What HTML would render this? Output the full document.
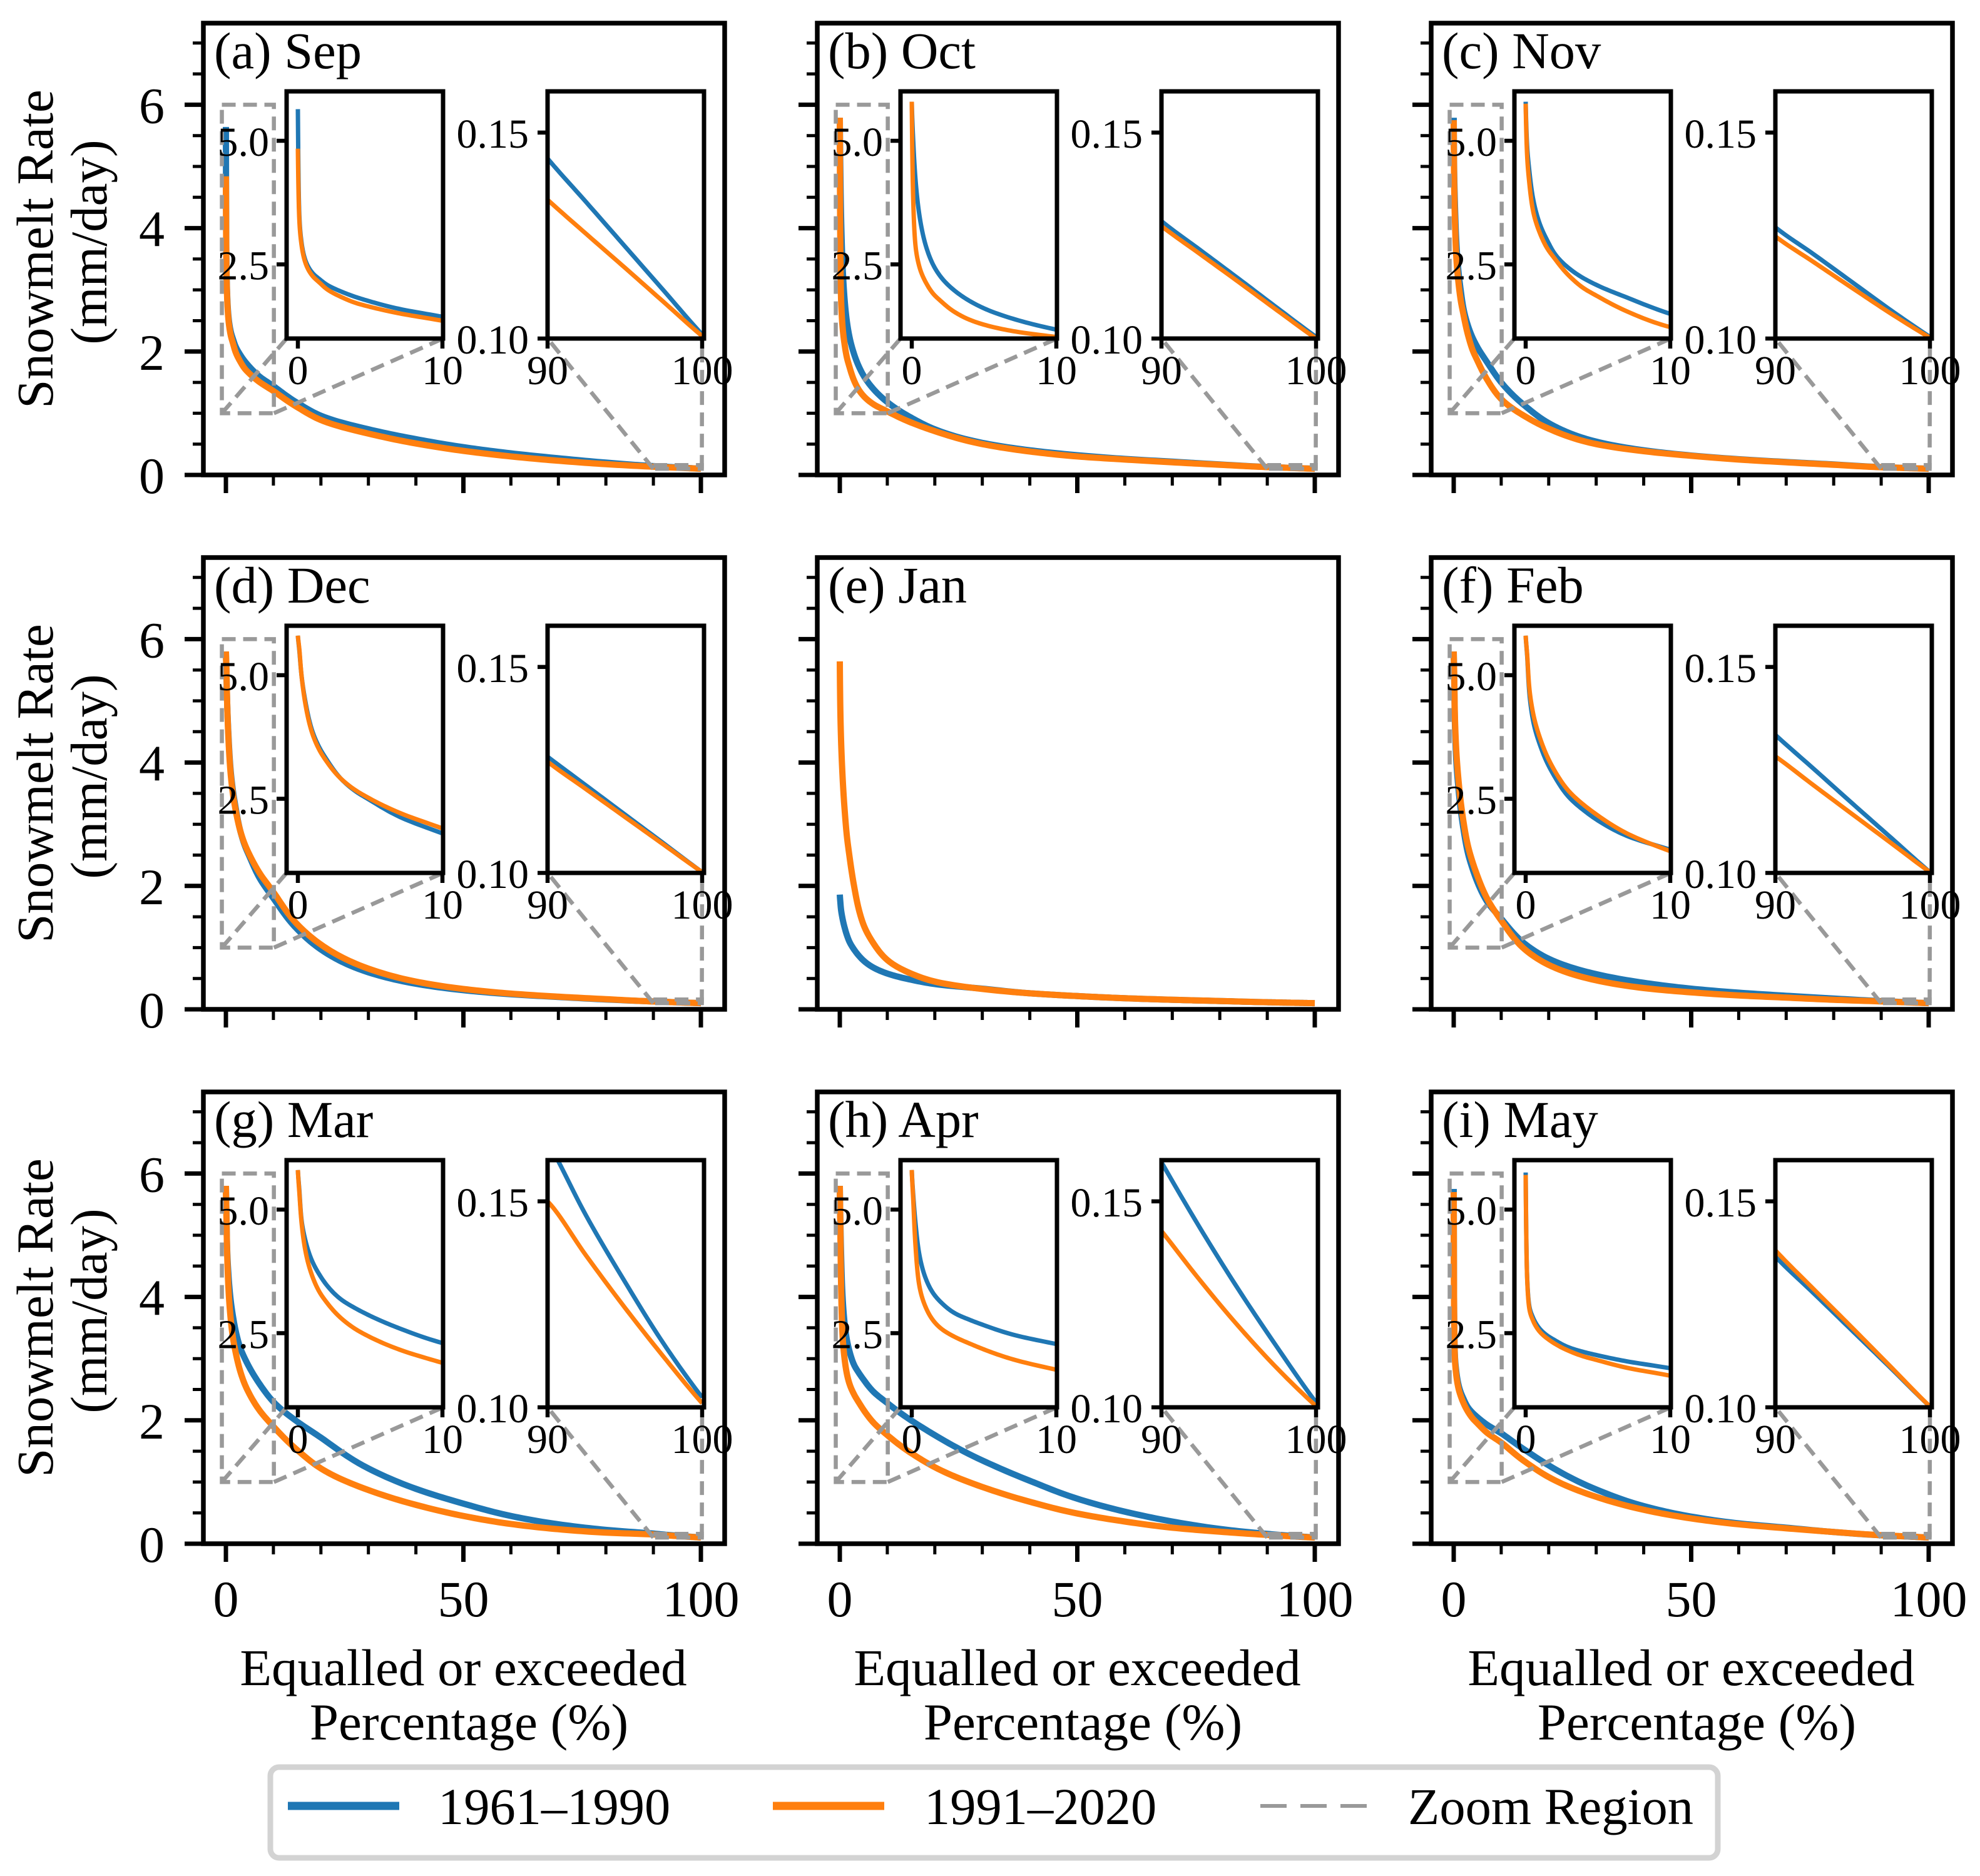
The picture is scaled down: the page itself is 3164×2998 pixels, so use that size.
<!DOCTYPE html>
<html lang="en">
<head>
<meta charset="utf-8">
<title>Snowmelt Rate Flow Duration Curves</title>
<style>
html,body{margin:0;padding:0;background:#fff;}
svg{display:block;}
text{font-family:"Liberation Serif","Times New Roman",serif;fill:#000;}
</style>
</head>
<body>
<svg id="figure" xmlns="http://www.w3.org/2000/svg" width="3164" height="2998" viewBox="0 0 3164 2998">
  <rect x="0" y="0" width="3164" height="2998" fill="#fff"/>
  <g id="panels"></g>
  <g>
    <rect x="432" y="2824" width="2313" height="145" rx="14" ry="14" fill="#fff" stroke="#d3d3d3" stroke-width="9"/>
    <line x1="460" y1="2886" x2="638" y2="2886" stroke="#1f77b4" stroke-width="13"/>
    <text x="700" y="2915" font-size="82.5">1961–1990</text>
    <line x1="1235" y1="2886" x2="1413" y2="2886" stroke="#ff7f0e" stroke-width="13"/>
    <text x="1477" y="2915" font-size="82.5">1991–2020</text>
    <line x1="2014" y1="2886" x2="2184" y2="2886" stroke="#999" stroke-width="6" stroke-dasharray="42 22"/>
    <text x="2250" y="2915" font-size="82.5">Zoom Region</text>
  </g>
</svg>
<script>
// Exceedance percentages shared by every series
const percentiles = [0,0.1,0.25,0.5,1,1.5,2,3,4,5,7,10,15,20,30,40,50,60,70,80,90,92.5,95,97.5,100];

// Snowmelt rate (mm/day) per month and period
const sep1961 = [5.64,3.5,2.95,2.6,2.33,2.2,2.09,1.95,1.84,1.75,1.6,1.44,1.17,0.96,0.74,0.58,0.45,0.35,0.27,0.2,0.1437,0.1331,0.1224,0.1117,0.101];
const sep1991 = [4.84,3.4,2.9,2.55,2.27,2.13,2.0,1.84,1.72,1.64,1.51,1.36,1.1,0.89,0.67,0.51,0.39,0.3,0.23,0.175,0.1337,0.1254,0.1172,0.1089,0.1006];
const oct1961 = [5.79,5.0,4.25,3.55,2.85,2.48,2.25,1.96,1.76,1.61,1.4,1.18,0.93,0.74,0.52,0.4,0.32,0.26,0.215,0.17,0.1285,0.1215,0.1145,0.1074,0.1004];
const oct1991 = [5.79,3.8,2.9,2.48,2.12,1.9,1.76,1.53,1.38,1.28,1.15,1.03,0.85,0.71,0.5,0.38,0.3,0.25,0.205,0.165,0.1273,0.1205,0.1137,0.1068,0.1];
const nov1961 = [5.79,4.9,4.4,3.85,3.3,2.98,2.72,2.42,2.22,2.07,1.83,1.5,1.12,0.84,0.54,0.4,0.315,0.255,0.21,0.17,0.127,0.1204,0.1136,0.1068,0.1004];
const nov1991 = [5.75,4.7,4.15,3.6,3.12,2.82,2.62,2.27,2.02,1.85,1.55,1.23,0.95,0.75,0.5,0.385,0.31,0.25,0.205,0.165,0.1248,0.1185,0.1122,0.106,0.1002];
const dec1961 = [5.8,5.5,5.0,4.5,3.87,3.53,3.29,2.9,2.65,2.47,2.14,1.8,1.3,0.97,0.6,0.415,0.31,0.245,0.2,0.16,0.1282,0.1212,0.1142,0.1072,0.1002];
const dec1991 = [5.8,5.53,5.0,4.45,3.82,3.48,3.25,2.9,2.67,2.5,2.22,1.9,1.38,1.05,0.66,0.45,0.33,0.255,0.205,0.165,0.127,0.1203,0.1136,0.1069,0.1002];
const jan1961 = [1.86,1.75,1.62,1.5,1.33,1.2,1.1,0.97,0.87,0.79,0.68,0.58,0.48,0.41,0.335,0.26,0.215,0.18,0.155,0.135,0.115,0.111,0.107,0.1035,0.1];
const jan1991 = [5.64,4.9,4.4,3.9,3.25,2.8,2.5,2.0,1.62,1.37,1.08,0.8,0.58,0.45,0.33,0.26,0.215,0.18,0.155,0.135,0.115,0.111,0.107,0.1035,0.1];
const feb1961 = [5.8,5.4,4.65,4.1,3.58,3.22,2.95,2.53,2.27,2.06,1.75,1.47,1.06,0.82,0.57,0.43,0.335,0.27,0.22,0.175,0.1335,0.1252,0.1168,0.1085,0.1002];
const feb1991 = [5.8,5.43,4.75,4.25,3.72,3.35,3.07,2.65,2.38,2.16,1.8,1.44,0.97,0.72,0.47,0.345,0.275,0.225,0.19,0.155,0.1283,0.1212,0.1142,0.1072,0.1002];
const mar1961 = [5.8,5.4,4.8,4.4,3.95,3.68,3.47,3.18,3.0,2.85,2.6,2.3,1.98,1.72,1.22,0.89,0.65,0.45,0.315,0.225,0.1645,0.1465,0.1305,0.1155,0.1024];
const mar1991 = [5.8,5.35,4.75,4.2,3.65,3.33,3.12,2.8,2.58,2.42,2.17,1.9,1.52,1.22,0.87,0.63,0.45,0.32,0.235,0.18,0.15,0.1368,0.1242,0.1123,0.101];
const apr1961 = [5.8,5.3,4.75,4.13,3.58,3.3,3.13,2.9,2.77,2.66,2.47,2.28,2.0,1.76,1.35,1.02,0.73,0.52,0.36,0.24,0.1595,0.1435,0.1285,0.1145,0.1012];
const apr1991 = [5.8,5.2,4.3,3.5,3.0,2.75,2.6,2.42,2.29,2.17,1.97,1.76,1.47,1.24,0.92,0.68,0.49,0.36,0.26,0.195,0.1428,0.1308,0.1196,0.1094,0.1003];
const may1961 = [5.75,3.65,3.05,2.82,2.58,2.45,2.36,2.21,2.12,2.05,1.93,1.79,1.52,1.27,0.88,0.61,0.44,0.33,0.26,0.19,0.1366,0.1276,0.1185,0.1094,0.1002];
const may1991 = [5.7,3.62,3.0,2.76,2.52,2.39,2.29,2.14,2.03,1.95,1.8,1.64,1.33,1.08,0.76,0.55,0.41,0.315,0.25,0.19,0.1381,0.1286,0.1192,0.1097,0.1002];

// Panel order and labels
const panelTitles = ["(a) Sep","(b) Oct","(c) Nov","(d) Dec","(e) Jan","(f) Feb","(g) Mar","(h) Apr","(i) May"];
const earlySeries = [sep1961,oct1961,nov1961,dec1961,jan1961,feb1961,mar1961,apr1961,may1961];
const lateSeries = [sep1991,oct1991,nov1991,dec1991,jan1991,feb1991,mar1991,apr1991,may1991];

// Tick values and labels
const xMajorTicks = [0,50,100];
const xMinorTicks = [10,20,30,40,60,70,80,90];
const yMajorTicks = [0,2,4,6];
const yMinorTicks = [0.5,1,1.5,2.5,3,3.5,4.5,5,5.5,6.5,7];
const headXTicks = [0,10];
const headYTicks = [2.5,5];
const headYLabels = ["2.5","5.0"];
const tailXTicks = [90,100];
const tailYTicks = [0.1,0.15];
const tailYLabels = ["0.10","0.15"];

const SVGNS = "http://www.w3.org/2000/svg";
const BLUE = "#1f77b4", ORANGE = "#ff7f0e", GRAY = "#999999";
const root = document.getElementById("panels");

function mk(tag, parent) {
  const el = document.createElementNS(SVGNS, tag);
  parent.appendChild(el);
  return el;
}
function seg(parent, x1, y1, x2, y2, w, color, dash) {
  const el = mk("line", parent);
  el.setAttribute("x1", x1); el.setAttribute("y1", y1);
  el.setAttribute("x2", x2); el.setAttribute("y2", y2);
  el.setAttribute("stroke", color); el.setAttribute("stroke-width", w);
  if (dash) el.setAttribute("stroke-dasharray", dash);
  return el;
}
function txt(parent, s, x, y, size, anchor) {
  const el = mk("text", parent);
  el.setAttribute("x", x); el.setAttribute("y", y);
  el.setAttribute("font-size", size);
  el.setAttribute("text-anchor", anchor);
  el.textContent = s;
  return el;
}
function box(parent, x, y, w, h, sw, color, fill, dash) {
  const el = mk("rect", parent);
  el.setAttribute("x", x); el.setAttribute("y", y);
  el.setAttribute("width", w); el.setAttribute("height", h);
  el.setAttribute("stroke", color); el.setAttribute("stroke-width", sw);
  el.setAttribute("fill", fill);
  if (dash) el.setAttribute("stroke-dasharray", dash);
  return el;
}
// Smooth resampling: monotone Hermite spline in log-percent / log-rate space
function resample(values) {
  const u = percentiles.map(p => Math.log(p + 0.1));
  const w = values.map(v => Math.log(v));
  const n = u.length, dx = [], m = [], t = [], out = [];
  for (let i = 0; i < n - 1; i++) {
    dx[i] = u[i + 1] - u[i];
    m[i] = (w[i + 1] - w[i]) / dx[i];
  }
  t[0] = m[0]; t[n - 1] = m[n - 2];
  for (let i = 1; i < n - 1; i++) {
    if (m[i - 1] * m[i] <= 0) { t[i] = 0; continue; }
    const a = 2 * dx[i] + dx[i - 1], b = dx[i] + 2 * dx[i - 1];
    t[i] = (a + b) / (a / m[i - 1] + b / m[i]);
  }
  for (let i = 0; i < n - 1; i++) {
    out.push([percentiles[i], values[i]]);
    for (let k = 1; k < 12; k++) {
      const s = k / 12, s2 = s * s, s3 = s2 * s;
      const val = (2 * s3 - 3 * s2 + 1) * w[i] + (s3 - 2 * s2 + s) * dx[i] * t[i]
        + (-2 * s3 + 3 * s2) * w[i + 1] + (s3 - s2) * dx[i] * t[i + 1];
      out.push([Math.exp(u[i] + s * dx[i]) - 0.1, Math.exp(val)]);
    }
  }
  out.push([percentiles[n - 1], values[n - 1]]);
  return out;
}
function curve(parent, values, xFn, yFn, lo, hi, color, w) {
  const pts = resample(values).filter(q => q[0] >= lo && q[0] <= hi);
  const el = mk("path", parent);
  el.setAttribute("d", "M" + pts.map(q => xFn(q[0]).toFixed(2) + "," + yFn(q[1]).toFixed(2)).join("L"));
  el.setAttribute("fill", "none");
  el.setAttribute("stroke", color);
  el.setAttribute("stroke-width", w);
  el.setAttribute("stroke-linejoin", "round");
  return el;
}

panelTitles.forEach((title, idx) => {
  const col = idx % 3, row = Math.floor(idx / 3);
  const ox = col * 981, oy = row * 854;
  const key = title.slice(4).toLowerCase();

  const g = mk("g", root);
  
  

  // Main axes functions
  const L = 325 + ox, R = 1158 + ox, T = 37 + oy, B = 759 + oy;
  const mx = v => 361 + ox + v * 7.59;
  const my = v => B - v * 98.6;

  const frame = box(g, L, T, R - L, B - T, 7.5, "#000", "#fff");
  
  

  // Main ticks
  xMinorTicks.forEach(v => {
    const t = seg(g, mx(v), B, mx(v), B + 17, 5, "#000");
    
    
  });
  xMajorTicks.forEach(v => {
    const t = seg(g, mx(v), B, mx(v), B + 29, 7, "#000");
    
    
    if (row === 2) {
      const l = txt(g, String(v), mx(v), 2583, 82, "middle");
      
      
    }
  });
  yMinorTicks.forEach(v => {
    const t = seg(g, L - 17, my(v), L, my(v), 5, "#000");
    
    
  });
  yMajorTicks.forEach(v => {
    const t = seg(g, L - 30, my(v), L, my(v), 7, "#000");
    
    
    if (col === 0) {
      const l = txt(g, String(v), 263, my(v) + 29, 82, "end");
      
      
    }
  });

  // Axis titles
  if (col === 0) {
    const cy = (T + B) / 2;
    const y1 = txt(g, "Snowmelt Rate", 0, 0, 83, "middle");
    y1.setAttribute("transform", "translate(84," + cy + ") rotate(-90)");
    
    
    const y2 = txt(g, "(mm/day)", 0, 0, 83, "middle");
    y2.setAttribute("transform", "translate(170," + (cy - 11) + ") rotate(-90)");
    
    
  }
  if (row === 2) {
    const cx = (L + R) / 2;
    const x1 = txt(g, "Equalled or exceeded", cx - 1, 2693, 83, "middle");
    
    
    const x2 = txt(g, "Percentage (%)", cx + 8, 2780, 83, "middle");
    
    
  }

  // Curves
  const c1 = curve(g, earlySeries[idx], mx, my, 0, 100, BLUE, 10);
  
  
  const c2 = curve(g, lateSeries[idx], mx, my, 0, 100, ORANGE, 10);
  
  

  // Panel title
  const pt = txt(g, title, 342 + ox, 109 + oy, 82.5, "start");
  
  

  // January has no insets
  if (key === "jan") return;

  // Inset axes functions
  const iT = 146 + oy, iB = 541 + oy;
  const hL = 458 + ox, hR = 708 + ox;
  const hx = v => 476 + ox + v * 23.1;
  const hy = v => iB - (v - 1) * 79;
  const tL = 875 + ox, tR = 1125 + ox;
  const tx = v => tL + (v - 90) * 24.7;
  const ty = v => iB - (v - 0.1) * 6583;

  // Zoom region rectangles and connectors
  const dash = "22 12";
  const z1 = box(g, mx(-0.85), my(6), mx(10.1) - mx(-0.85), my(1) - my(6), 6.5, GRAY, "none", dash);
  
  
  const z2 = box(g, mx(90), my(0.16), mx(100.2) - mx(90), my(0.1) - my(0.16), 6.5, GRAY, "none", dash);
  
  
  const conn = [
    [mx(-0.85), my(1), hL, iB],
    [mx(10.1), my(1), hR, iB],
    [mx(90), my(0.1), tL, iB],
    [mx(100.2), my(0.1), tR - 3, iB]
  ];
  conn.forEach(a => {
    const c = seg(g, a[0], a[1], a[2], a[3], 6.5, GRAY, dash);
    
    
  });

  // Inset definitions
  const insets = [
    { name: "inset-head", l: hL, r: hR, xf: hx, yf: hy, lo: 0, hi: 10, xt: headXTicks, yt: headYTicks, yl: headYLabels, lx: hL - 28 },
    { name: "inset-tail", l: tL, r: tR, xf: tx, yf: ty, lo: 90, hi: 100, xt: tailXTicks, yt: tailYTicks, yl: tailYLabels, lx: tL - 30 }
  ];
  insets.forEach((ins, k) => {
    const ig = mk("g", g);
    
    

    const bg = box(ig, ins.l, iT, ins.r - ins.l, iB - iT, 0, "none", "#fff");
    
    

    const clipId = "clip-" + idx + "-" + k;
    const cp = mk("clipPath", ig);
    cp.setAttribute("id", clipId);
    const cr = mk("rect", cp);
    cr.setAttribute("x", ins.l); cr.setAttribute("y", iT);
    cr.setAttribute("width", ins.r - ins.l); cr.setAttribute("height", iB - iT);

    const cg = mk("g", ig);
    cg.setAttribute("clip-path", "url(#" + clipId + ")");
    const a = curve(cg, earlySeries[idx], ins.xf, ins.yf, ins.lo, ins.hi, BLUE, 7);
    
    
    const b = curve(cg, lateSeries[idx], ins.xf, ins.yf, ins.lo, ins.hi, ORANGE, 7);
    
    

    const fr = box(ig, ins.l, iT, ins.r - ins.l, iB - iT, 7, "#000", "none");
    
    

    ins.xt.forEach(v => {
      const t = seg(ig, ins.xf(v), iB, ins.xf(v), iB + 16, 6.5, "#000");
      
      
      const l = txt(ig, String(v), ins.xf(v), 614 + oy, 66, "middle");
      
      
    });
    ins.yt.forEach((v, j) => {
      const t = seg(ig, ins.l - 16, ins.yf(v), ins.l, ins.yf(v), 6.5, "#000");
      
      
      const l = txt(ig, ins.yl[j], ins.lx, ins.yf(v) + 24, 66, "end");
      
      
    });
  });
});
</script>
</body>
</html>
